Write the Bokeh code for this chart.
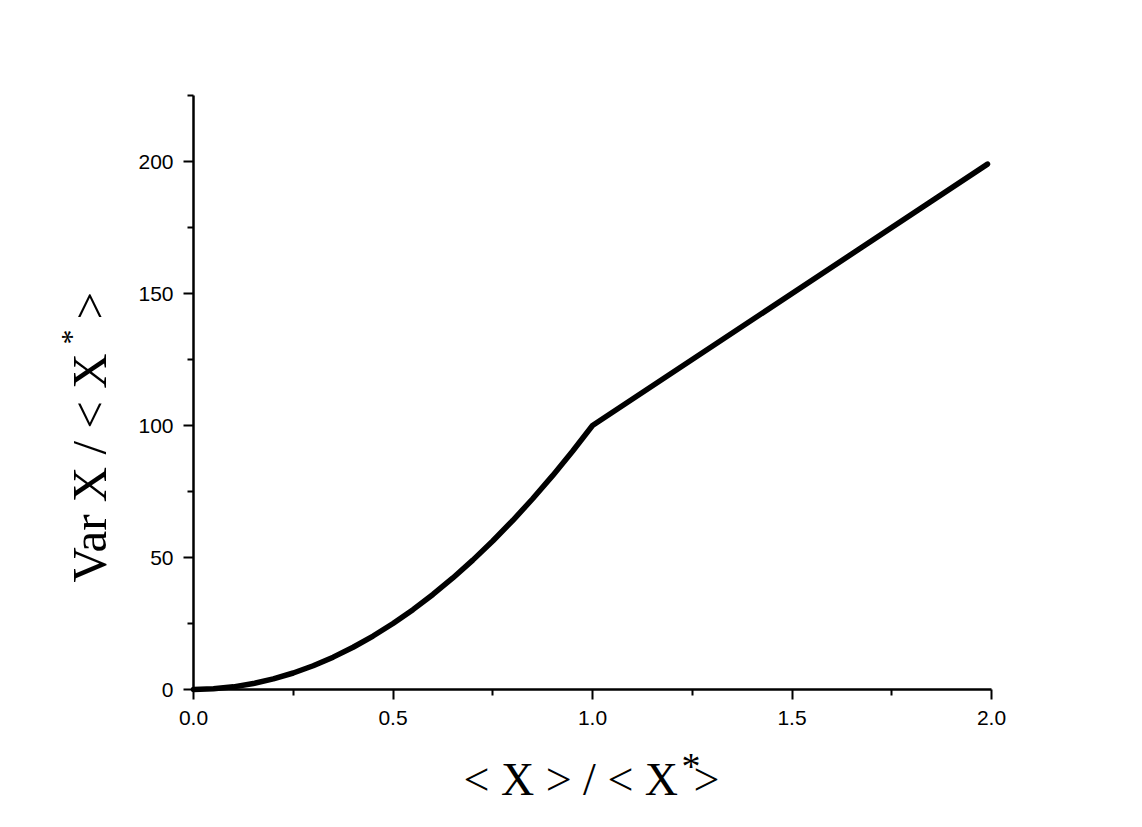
import math
from bokeh.plotting import figure
from bokeh.models import Range1d, FixedTicker, Label, NumeralTickFormatter
from bokeh.embed import file_html
from bokeh.resources import INLINE

# ---- data ----
x_ratio = [0.0, 0.05, 0.1, 0.15, 0.2, 0.25, 0.3, 0.35, 0.4, 0.45, 0.5,
           0.55, 0.6, 0.65, 0.7, 0.75, 0.8, 0.85, 0.9, 0.95, 1.0, 1.99]
var_ratio = [0.0, 0.25, 1.0, 2.25, 4.0, 6.25, 9.0, 12.25, 16.0, 20.25, 25.0,
             30.25, 36.0, 42.25, 49.0, 56.25, 64.0, 72.25, 81.0, 90.25, 100.0, 199.0]

x_major = [0.0, 0.5, 1.0, 1.5, 2.0]
x_minor = [0.25, 0.75, 1.25, 1.75]
y_major = [0, 50, 100, 150, 200]
y_minor = [25, 75, 125, 175, 225]
x_bounds = (0, 2)
y_bounds = (0, 225)

W, H = 1134, 819
# pixel geometry of the reference: x=0 at 193, x=2 at 991; y=0 at 689, y=225 at 95
X0, XS = 193.0, 399.0
Y0, YS = 689.0, 2.64

def dx(px):
    return (px - X0) / XS

def dy(py):
    return (Y0 - py) / YS

p = figure(width=W, height=H, output_backend="svg", toolbar_location=None,
           x_range=Range1d(dx(0), dx(W)), y_range=Range1d(dy(H), dy(0)))
p.min_border = 0
p.min_border_left = 0
p.min_border_right = 0
p.min_border_top = 0
p.min_border_bottom = 0
p.outline_line_color = None
p.background_fill_color = "white"
p.border_fill_color = "white"
p.xgrid.visible = False
p.ygrid.visible = False

p.line(x_ratio, var_ratio, line_color="black", line_width=5.5, line_cap="round", line_join="round")

p.xaxis[0].formatter = NumeralTickFormatter(format="0.0")
p.yaxis[0].formatter = NumeralTickFormatter(format="0")

for ax, maj, mn, standoff, bnds in ((p.xaxis[0], x_major, x_minor, 11, x_bounds),
                                   (p.yaxis[0], y_major, y_minor, 10, y_bounds)):
    ax.ticker = FixedTicker(ticks=maj, minor_ticks=mn)
    ax.fixed_location = 0
    ax.bounds = bnds
    ax.axis_line_color = "black"
    ax.axis_line_width = 2.5
    ax.major_tick_line_color = "black"
    ax.major_tick_line_width = 2
    ax.minor_tick_line_color = "black"
    ax.minor_tick_line_width = 2
    ax.major_tick_out = 10
    ax.major_tick_in = 0
    ax.minor_tick_out = 6
    ax.minor_tick_in = 0
    ax.major_label_text_font = "Liberation Sans"
    ax.major_label_text_font_size = "21px"
    ax.major_label_text_color = "black"
    ax.major_label_standoff = standoff
    ax.axis_label = None

serif = "Liberation Serif"

# x-axis title: < X > / < X*>
p.add_layout(Label(x=dx(463), y=dy(779), text="< X > / < X", text_font=serif,
                   text_font_size="46px", text_color="black",
                   text_align="left", text_baseline="alphabetic"))
p.add_layout(Label(x=dx(681), y=dy(765), text="*", text_font=serif,
                   text_font_size="38px", text_color="black",
                   text_align="left", text_baseline="alphabetic"))
p.add_layout(Label(x=dx(693), y=dy(779), text=">", text_font=serif,
                   text_font_size="46px", text_color="black",
                   text_align="left", text_baseline="alphabetic"))

# y-axis title: Var X / < X* >
p.add_layout(Label(x=dx(89), y=dy(582), text="Var X / < X", text_font=serif,
                   text_font_size="49px", text_color="black", angle=math.pi / 2,
                   text_align="left", text_baseline="alphabetic"))
p.add_layout(Label(x=dx(70), y=dy(344), text="*", text_font=serif,
                   text_font_size="30px", text_color="black", angle=math.pi / 2,
                   text_align="left", text_baseline="alphabetic"))
p.add_layout(Label(x=dx(89), y=dy(319), text=">", text_font=serif,
                   text_font_size="49px", text_color="black", angle=math.pi / 2,
                   text_align="left", text_baseline="alphabetic"))

open("out.html", "w").write(file_html(p, INLINE))
